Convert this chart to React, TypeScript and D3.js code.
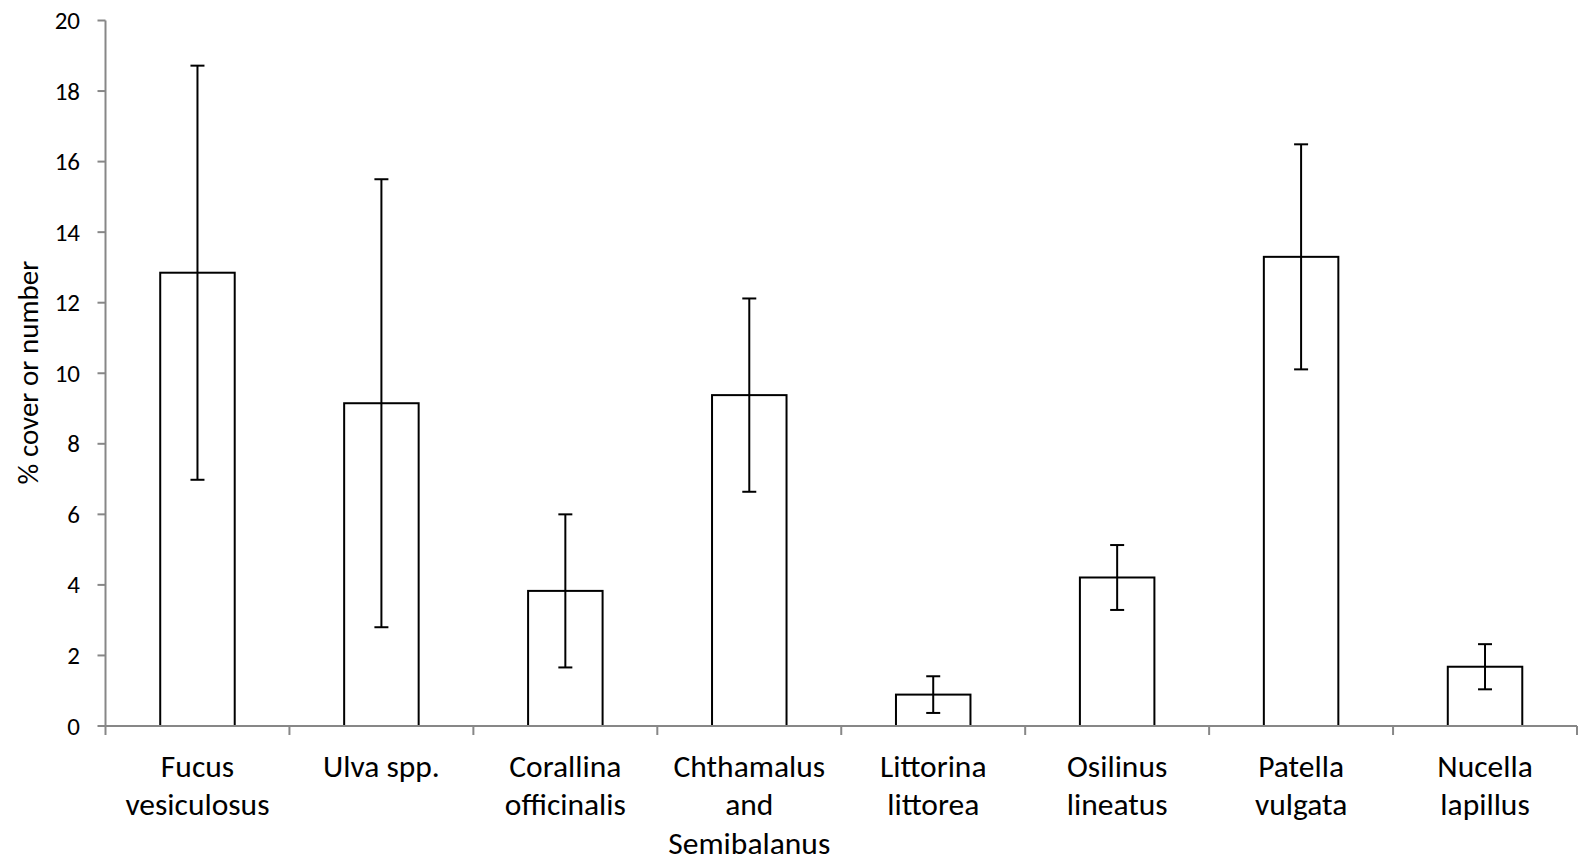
import React from "react";
import * as d3 from "d3";

const categories: string[][] = [
  ["Fucus", "vesiculosus"],
  ["Ulva spp."],
  ["Corallina", "officinalis"],
  ["Chthamalus", "and", "Semibalanus"],
  ["Littorina", "littorea"],
  ["Osilinus", "lineatus"],
  ["Patella", "vulgata"],
  ["Nucella", "lapillus"],
];
const means: number[] = [12.85, 9.15, 3.83, 9.38, 0.89, 4.21, 13.3, 1.68];
const errors: number[] = [5.87, 6.35, 2.17, 2.74, 0.52, 0.92, 3.19, 0.64];
const yTicks: number[] = [0, 2, 4, 6, 8, 10, 12, 14, 16, 18, 20];
const yLabel = "% cover or number";

const W = 1579;
const H = 864;
const left = 105.5;
const right = 1577;
const top = 20.5;
const bottom = 726;
const FONT = "Carlito, 'Open Sans', sans-serif";

export default function App() {
  const keys = categories.map((c) => c.join(" "));
  const x = d3
    .scaleBand<string>()
    .domain(keys)
    .range([left, right])
    .paddingInner(0.595)
    .paddingOuter(0.2975);
  const y = d3.scaleLinear().domain([0, 20]).range([bottom, top]);
  const step = x.step();
  const axisColor = "#878787";
  const boundaries = d3.range(keys.length + 1).map((i) => left + i * step);

  return (
    <svg
      width={W}
      height={H}
      style={{ position: "absolute", left: 0, top: 0, background: "#fff" }}
      fontFamily={FONT}
    >
      <rect x={0} y={0} width={W} height={H} fill="#fff" />
      {/* y axis */}
      <line x1={left} x2={left} y1={y(20)} y2={bottom} stroke={axisColor} strokeWidth={2} />
      {yTicks.map((t) => (
        <g key={t}>
          <line x1={left - 8} x2={left} y1={y(t)} y2={y(t)} stroke={axisColor} strokeWidth={2} />
          <text
            x={80}
            y={y(t)}
            textAnchor="end"
            dominantBaseline="central"
            fontSize={25}
            fill="#000"
          >
            {t}
          </text>
        </g>
      ))}
      {/* bars */}
      {keys.map((k, i) => {
        const bx = x(k)!;
        const bw = x.bandwidth();
        const cx = bx + bw / 2;
        const hi = y(means[i] + errors[i]);
        const lo = y(means[i] - errors[i]);
        return (
          <g key={k}>
            <rect
              x={bx}
              y={y(means[i])}
              width={bw}
              height={bottom - y(means[i])}
              fill="#fff"
              stroke="#000"
              strokeWidth={2}
            />
            <line x1={cx} x2={cx} y1={hi} y2={lo} stroke="#000" strokeWidth={2} />
            <line x1={cx - 7} x2={cx + 7} y1={hi} y2={hi} stroke="#000" strokeWidth={2} />
            <line x1={cx - 7} x2={cx + 7} y1={lo} y2={lo} stroke="#000" strokeWidth={2} />
          </g>
        );
      })}
      {/* x axis */}
      <line x1={left} x2={right} y1={bottom} y2={bottom} stroke={axisColor} strokeWidth={2} />
      {boundaries.map((bx, i) => (
        <line key={i} x1={bx} x2={bx} y1={bottom} y2={bottom + 9} stroke={axisColor} strokeWidth={2} />
      ))}
      {categories.map((lines, i) => {
        const cx = x(keys[i])! + x.bandwidth() / 2;
        return (
          <text key={i} x={cx} textAnchor="middle" fontSize={31.5} fill="#000">
            {lines.map((ln, j) => (
              <tspan key={j} x={cx} y={766 + j * 38.3} dominantBaseline="central">
                {ln}
              </tspan>
            ))}
          </text>
        );
      })}
      <text
        transform={`translate(28, 372.5) rotate(-90)`}
        textAnchor="middle"
        dominantBaseline="central"
        fontSize={29}
        fill="#000"
      >
        {yLabel}
      </text>
    </svg>
  );
}
